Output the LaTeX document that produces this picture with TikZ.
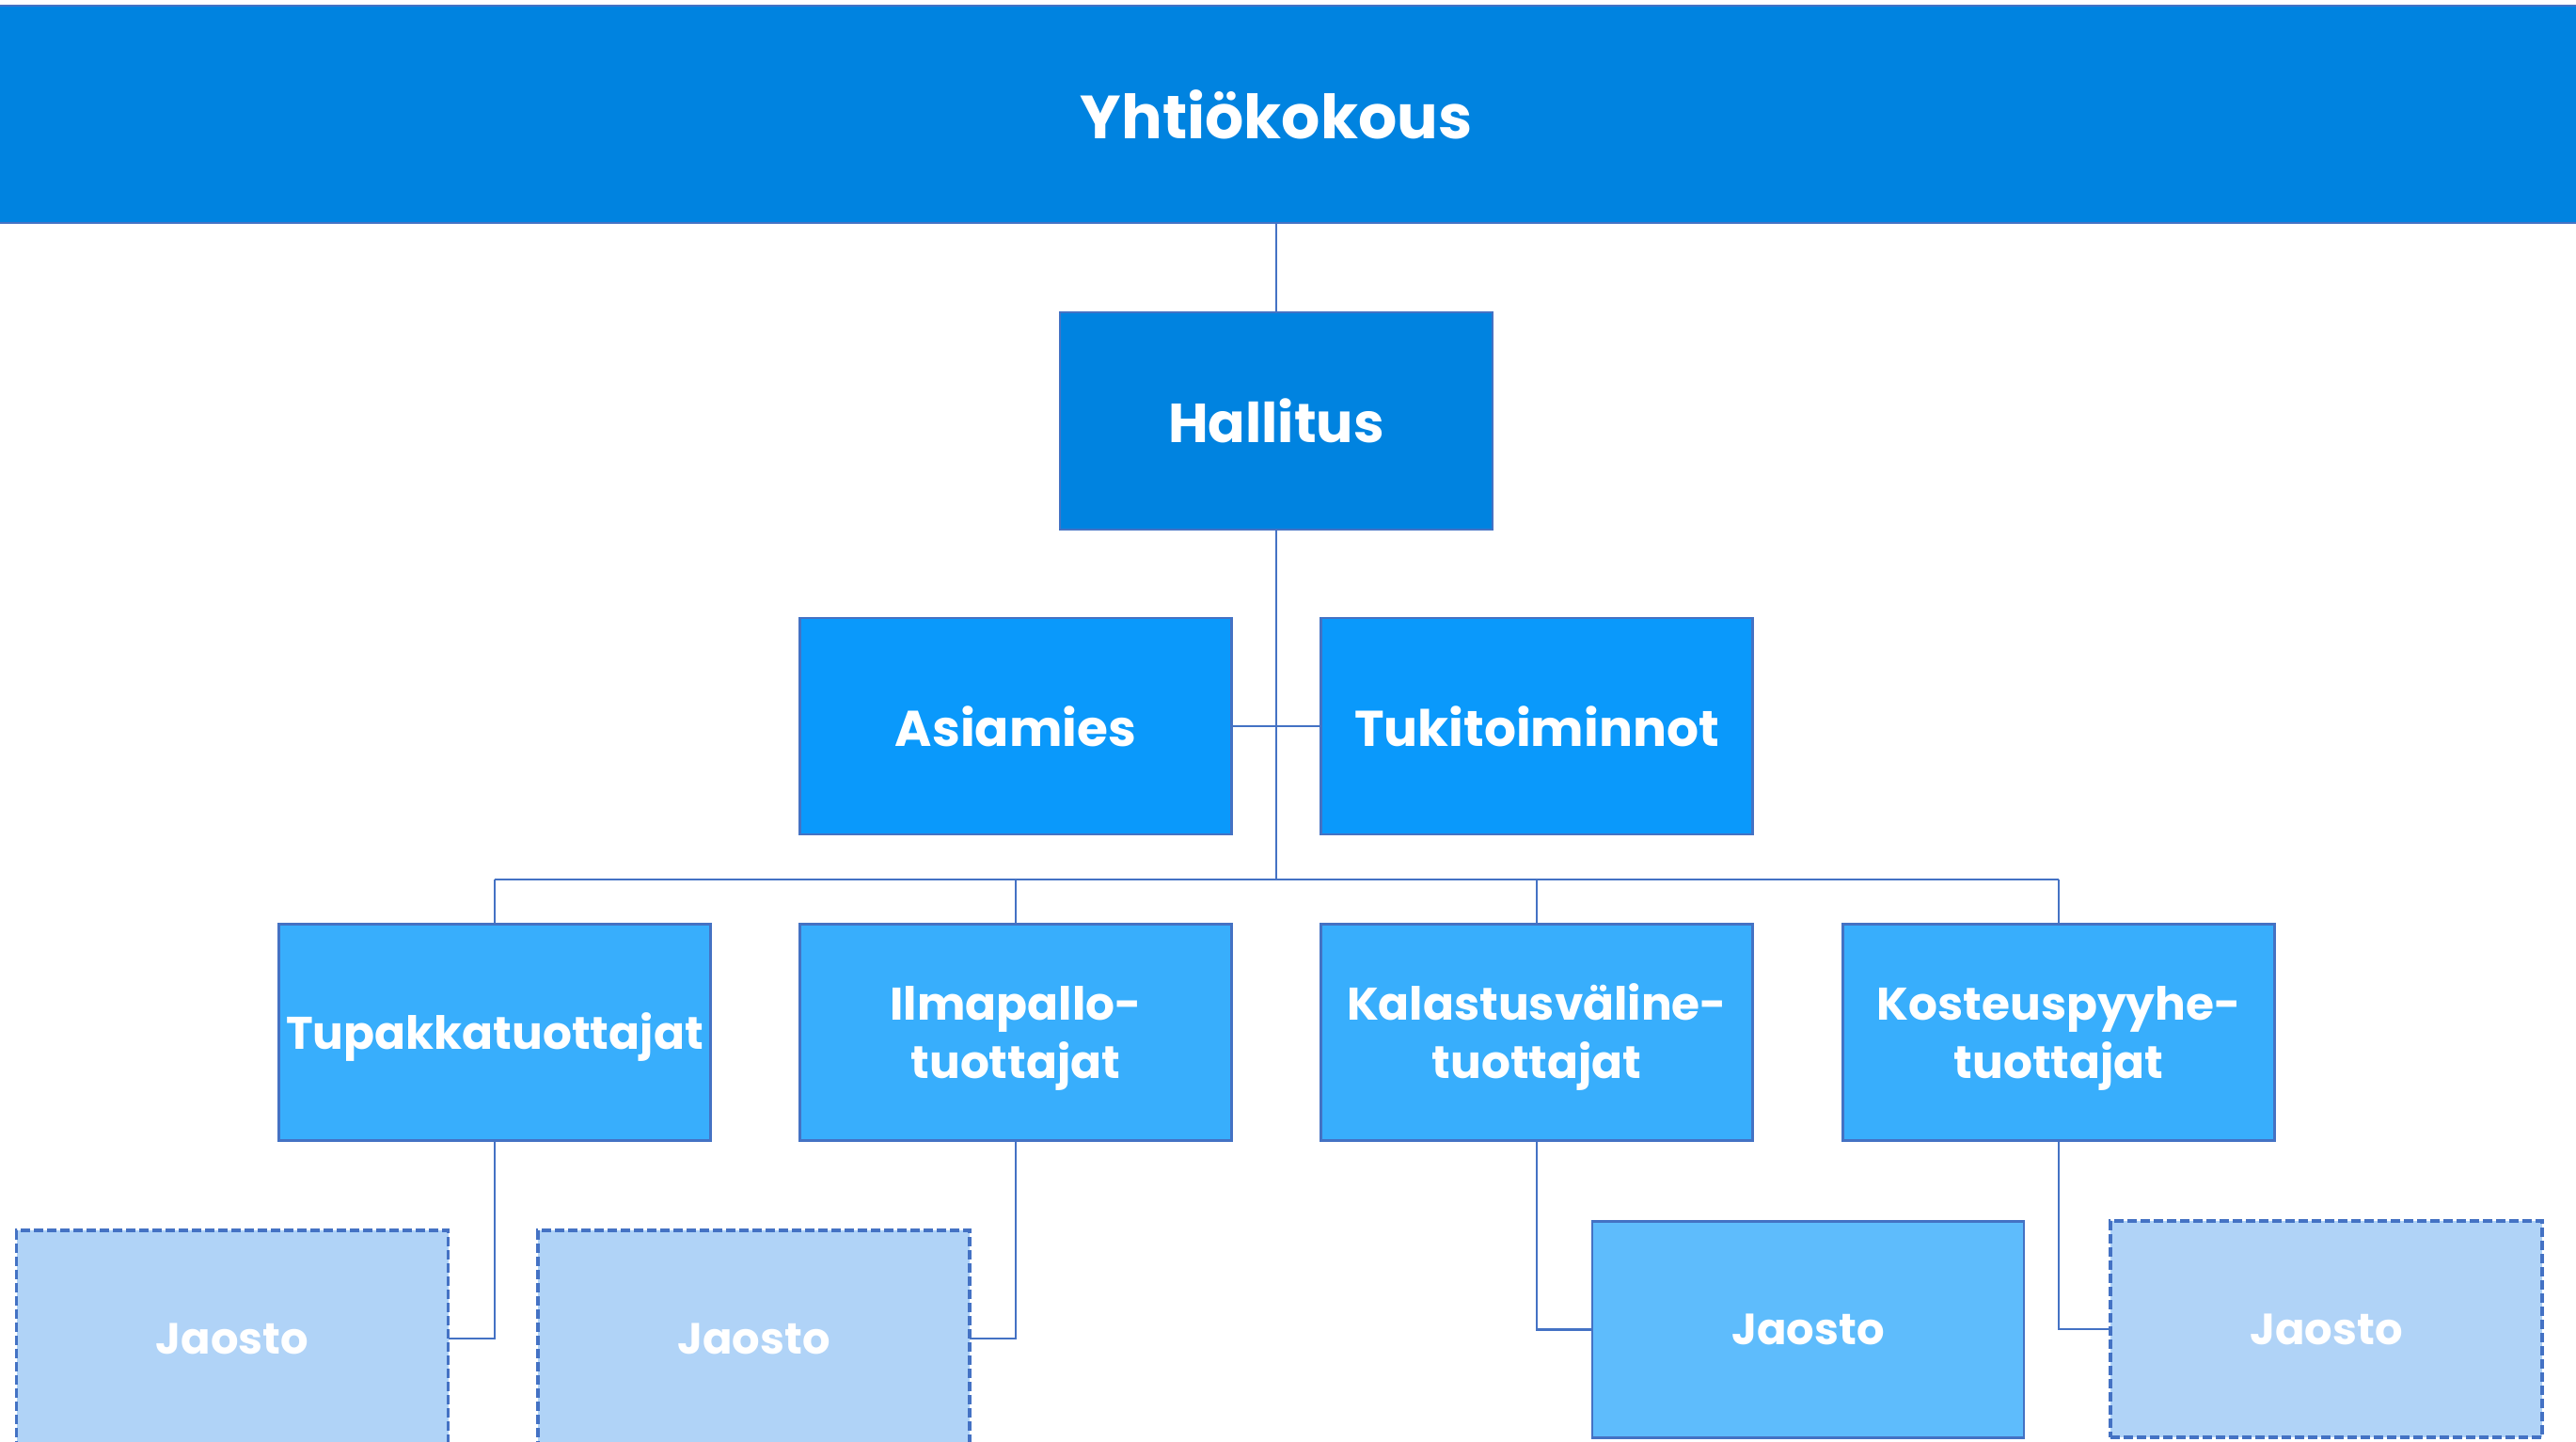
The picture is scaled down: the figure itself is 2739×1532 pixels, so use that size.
\documentclass[tikz,border=0pt]{standalone}
\usepackage{fontspec}
\setmainfont{Poppins}
\definecolor{edge}{HTML}{4472C4}
\definecolor{cTop}{HTML}{0083E0}
\definecolor{cTwo}{HTML}{0A99FB}
\definecolor{cThree}{HTML}{38AEFC}
\definecolor{cFour}{HTML}{5EBCFC}
\definecolor{cGhost}{HTML}{B0D3F7}
\newcommand{\twolines}[2]{\raisebox{-24.6pt}[0pt][0pt]{\parbox[b]{220pt}{\centering #1\\#2}}}
\newcommand{\oneline}[1]{\raisebox{-8.75pt}[0pt][0pt]{#1}}
\tikzset{
  box/.style={draw=edge, line width=1.4pt, text=white, font=\bfseries,
    inner sep=0pt, outer sep=0pt, align=center,
    minimum width=229.5pt, minimum height=115pt},
  toplevel/.style={box, fill=cTop},
  second/.style={box, fill=cTwo, font=\bfseries\fontsize{26.7pt}{32pt}\selectfont},
  third/.style={box, fill=cThree, font=\bfseries\fontsize{24.3pt}{31.3pt}\selectfont},
  jaosolid/.style={box, fill=cFour, font=\bfseries\fontsize{23.2pt}{28pt}\selectfont},
  jaoghost/.style={box, fill=cGhost, dash pattern=on 5pt off 2pt, line width=1.6pt,
    font=\bfseries\fontsize{23.2pt}{28pt}\selectfont},
  link/.style={draw=edge, line width=1.3pt}
}
\begin{document}
\begin{tikzpicture}[x=0.5pt,y=-0.5pt]
\useasboundingbox (0,0) rectangle (2739,1532);
\fill[white] (0,0) rectangle (2739,1532);
\begin{scope}
\clip (0,0) rectangle (2739,1532);
% top bar
\node[toplevel, minimum width=1400pt, minimum height=115.5pt,
  font=\bfseries\fontsize{32.4pt}{38pt}\selectfont] (yk) at (1357,121.5) {Yhtiökokous};
\end{scope}
\node[toplevel, minimum width=230pt, minimum height=115.5pt,
  font=\bfseries\fontsize{29.2pt}{34pt}\selectfont] (hall) at (1357,447.5) {Hallitus};
\node[second] (asia) at (1080,772) {Asiamies};
\node[second] (tuki) at (1634,772) {Tukitoiminnot};
\node[third] (tupa) at (526,1097.5) {\oneline{Tupakkatuottajat}};
\node[third] (ilma) at (1080,1097.5) {\twolines{Ilmapallo-}{tuottajat}};
\node[third] (kala) at (1634,1097.5) {\twolines{Kalastusväline-}{tuottajat}};
\node[third] (kost) at (2189,1097.5) {\twolines{Kosteuspyyhe-}{tuottajat}};
\node[jaoghost] (j1) at (247,1423) {Jaosto};
\node[jaoghost] (j2) at (801.5,1423) {Jaosto};
\node[jaosolid] (j3) at (1922.5,1413.5) {Jaosto};
\node[jaoghost] (j4) at (2473.5,1413) {Jaosto};
% connectors
\coordinate (bus) at (1357,935);
\coordinate (busL) at (526,935);
\coordinate (busR) at (2189,935);
\draw[link] (yk.south -| hall.north) -- (hall.north);
\draw[link] (hall.south) -- (bus);
\draw[link] (asia.east) -- (tuki.west);
\draw[link] (busL) -- (busR);
\draw[link] (tupa.north) -- (tupa.north |- bus);
\draw[link] (ilma.north) -- (ilma.north |- bus);
\draw[link] (kala.north) -- (kala.north |- bus);
\draw[link] (kost.north) -- (kost.north |- bus);
\draw[link] (tupa.south) |- (j1.east);
\draw[link] (ilma.south) |- (j2.east);
\draw[link] (kala.south) |- (j3.west);
\draw[link] (kost.south) |- (j4.west);
\end{tikzpicture}
\end{document}
